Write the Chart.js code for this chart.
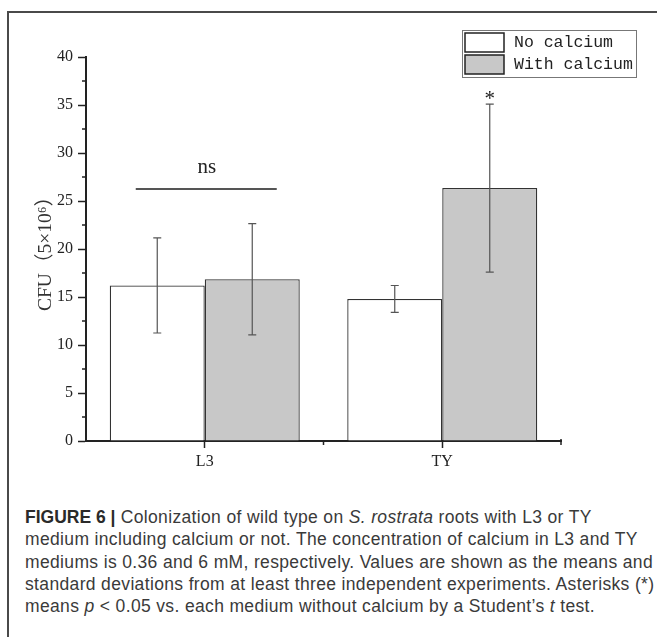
<!DOCTYPE html>
<html lang="en">
<head>
    <meta charset="UTF-8">
    <title>Figure 6</title>
    <script src="https://cdn.jsdelivr.net/npm/chart.js"></script>
    <style>
        html, body { margin: 0; padding: 0; background: #ffffff; }
        body { width: 657px; height: 637px; position: relative; overflow: hidden; }
        .frame { position: absolute; left: 7px; top: 11px; width: 660px; height: 640px; border-top: 2px solid #4a4a4a; border-left: 2px solid #4a4a4a; }
        #chart { position: absolute; left: 0; top: 0; }
        .caption { position: absolute; left: 25px; top: 506px; font-family: 'Liberation Sans', Arial, sans-serif; font-size: 17.5px; letter-spacing: 0.35px; line-height: 22.3px; color: #3a3a3a; white-space: nowrap; }
        .caption b { color: #2a2a2a; letter-spacing: 0; }
    </style>
</head>
<body>
    <div class="frame"></div>
    <canvas id="chart" width="657" height="490"></canvas>
    <div class="caption">
        <b>FIGURE 6 |</b> Colonization of wild type on <i>S. rostrata</i> roots with L3 or TY<br>
        medium including calcium or not. The concentration of calcium in L3 and TY<br>
        mediums is 0.36 and 6 mM, respectively. Values are shown as the means and<br>
        standard deviations from at least three independent experiments. Asterisks (*)<br>
        means <i>p</i> &lt; 0.05 vs. each medium without calcium by a Student’s <i>t</i> test.
    </div>
    <script>
        // values
        const media = ['L3', 'TY'];
        const seriesNames = ['No calcium', 'With calcium'];
        const noCalcium = [16.2, 14.8];
        const noCalciumSd = [4.95, 1.4];
        const withCalcium = [16.85, 26.35];
        const withCalciumSd = [5.8, 8.75];
        const yTicks = [0, 5, 10, 15, 20, 25, 30, 35, 40];
        const nsLevel = 26.25;

        const serif = "'Liberation Serif', 'DejaVu Serif', serif";
        const axisColor = '#222222';

        // minor ticks, error bars, significance marks and legend box
        const extras = {
            id: 'extras',
            afterDatasetsDraw(chart) {
                const ctx = chart.ctx;
                const x = chart.scales.x;
                const y = chart.scales.y;
                const sds = [noCalciumSd, withCalciumSd];

                ctx.save();
                ctx.strokeStyle = '#555555';
                ctx.lineWidth = 1.2;
                chart.data.datasets.forEach((ds, di) => {
                    chart.getDatasetMeta(di).data.forEach((bar, i) => {
                        const top = y.getPixelForValue(ds.data[i] + sds[di][i]);
                        const bot = y.getPixelForValue(ds.data[i] - sds[di][i]);
                        ctx.beginPath();
                        ctx.moveTo(bar.x, top); ctx.lineTo(bar.x, bot);
                        ctx.moveTo(bar.x - 4, top); ctx.lineTo(bar.x + 4, top);
                        ctx.moveTo(bar.x - 4, bot); ctx.lineTo(bar.x + 4, bot);
                        ctx.stroke();
                    });
                });

                // y minor ticks
                ctx.strokeStyle = axisColor;
                ctx.lineWidth = 1.5;
                ctx.beginPath();
                for (let k = 0; k < yTicks.length - 1; k++) {
                    const py = y.getPixelForValue((yTicks[k] + yTicks[k + 1]) / 2);
                    ctx.moveTo(y.right - 4, py); ctx.lineTo(y.right, py);
                }
                // x boundary and end ticks
                const mid = (x.getPixelForValue(0) + x.getPixelForValue(1)) / 2;
                ctx.moveTo(mid, x.top); ctx.lineTo(mid, x.top + 4);
                ctx.moveTo(x.right, x.top - 2); ctx.lineTo(x.right, x.top + 4);
                ctx.stroke();

                // ns bracket over L3
                const cx = x.getPixelForValue(0);
                const ly = y.getPixelForValue(nsLevel);
                ctx.strokeStyle = '#555555';
                ctx.lineWidth = 2;
                ctx.beginPath();
                ctx.moveTo(cx - 69, ly); ctx.lineTo(cx + 72, ly);
                ctx.stroke();
                ctx.fillStyle = '#222222';
                ctx.textAlign = 'center';
                ctx.textBaseline = 'alphabetic';
                ctx.font = '21px ' + serif;
                ctx.fillText('ns', cx + 2, ly - 16);

                // asterisk over TY with calcium
                const star = chart.getDatasetMeta(1).data[1];
                ctx.font = '21px ' + serif;
                ctx.fillText('*', star.x, y.getPixelForValue(withCalcium[1] + withCalciumSd[1]) + 1);

                // legend
                ctx.strokeStyle = '#777777';
                ctx.lineWidth = 1;
                ctx.strokeRect(462.5, 30.5, 174, 47);
                ctx.font = "16.5px 'Liberation Mono', 'DejaVu Sans Mono', monospace";
                ctx.textAlign = 'left';
                ctx.textBaseline = 'middle';
                chart.data.datasets.forEach((ds, di) => {
                    const top = 33 + di * 22;
                    ctx.fillStyle = ds.backgroundColor;
                    ctx.fillRect(465, top, 39, 19);
                    ctx.strokeStyle = '#222222';
                    ctx.lineWidth = 1.5;
                    ctx.strokeRect(465, top, 39, 19);
                    ctx.fillStyle = '#222222';
                    ctx.fillText(ds.label, 514, top + 10);
                });
                ctx.restore();
            }
        };

        new Chart(document.getElementById('chart'), {
            type: 'bar',
            data: {
                labels: media,
                datasets: [
                    { label: seriesNames[0], data: noCalcium, backgroundColor: '#ffffff', borderColor: '#333333', borderWidth: 1.3 },
                    { label: seriesNames[1], data: withCalcium, backgroundColor: '#c8c8c8', borderColor: '#333333', borderWidth: 1.3 }
                ]
            },
            options: {
                responsive: false,
                animation: false,
                devicePixelRatio: 1,
                layout: { padding: { left: 0, right: 96, top: 57, bottom: 0 } },
                datasets: { bar: { categoryPercentage: 0.8, barPercentage: 1.0 } },
                plugins: { legend: { display: false }, tooltip: { enabled: false } },
                scales: {
                    x: {
                        afterFit: s => { s.height = 49; },
                        grid: { display: true, drawOnChartArea: false, offset: false, tickLength: 7, tickWidth: 1.5, color: axisColor },
                        border: { color: axisColor, width: 2 },
                        ticks: { color: '#222222', font: { family: serif, size: 16 }, padding: 4 }
                    },
                    y: {
                        min: 0,
                        max: 40,
                        afterFit: s => { s.width = 86; },
                        afterBuildTicks: s => { s.ticks = yTicks.map(v => ({ value: v })); },
                        grid: { display: true, drawOnChartArea: false, tickLength: 8, tickWidth: 1.5, color: axisColor },
                        border: { color: axisColor, width: 2 },
                        ticks: { color: '#222222', font: { family: serif, size: 16 }, padding: 5 },
                        title: {
                            display: true,
                            text: 'CFU（5×10⁶）',
                            color: '#333333',
                            font: { family: "'Liberation Serif', 'Noto Sans CJK SC', serif", size: 19.5 },
                            padding: { top: 34, bottom: 0 }
                        }
                    }
                }
            },
            plugins: [extras]
        });
    </script>
</body>
</html>
